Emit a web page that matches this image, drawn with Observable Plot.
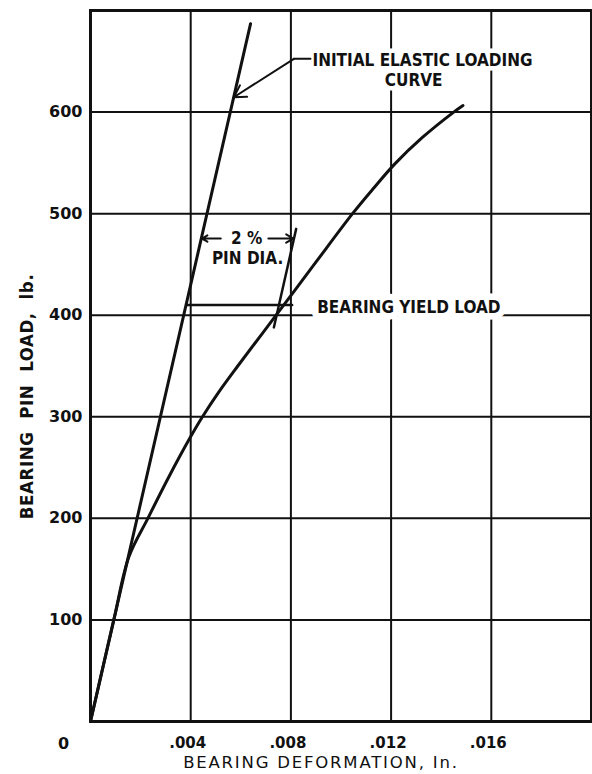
<!DOCTYPE html>
<html>
<head>
<meta charset="utf-8">
<script src="https://cdn.jsdelivr.net/npm/d3@7"></script>
<script src="https://cdn.jsdelivr.net/npm/@observablehq/plot@0.6"></script>
<style>
  html, body { margin: 0; padding: 0; background: #fff; }
  #chart svg { display: block; }
</style>
</head>
<body>
<div id="chart"></div>
<script>
// Axis ticks
const xTicks = [0.004, 0.008, 0.012, 0.016];
const xTickLabels = [".004", ".008", ".012", ".016"];
const yTicks = [100, 200, 300, 400, 500, 600];

// Axis titles
const xTitle = "BEARING DEFORMATION, In.";
const yTitle = "BEARING  PIN  LOAD,  lb.";

// Initial elastic loading line (deformation in., load lb.)
const elasticDeformation = [0, 0.00639];
const elasticLoad = [0, 687];

// Bearing load-deformation curve
const bearingDeformation = [0, 0.00093, 0.00153, 0.00229, 0.00311, 0.00399, 0.00447, 0.00514, 0.00588, 0.00741, 0.00893, 0.01046, 0.01130, 0.01215, 0.01325, 0.01450, 0.01487];
const bearingLoad = [0, 100, 162, 200, 240, 280, 300, 325, 350, 400, 450, 500, 525, 549, 575, 600, 606.5];

// 2% pin diameter offset line
const offsetDeformation = [0.00732, 0.00821];
const offsetLoad = [388, 485];

// Bearing yield load line
const yieldDeformation = [0.00386, 0.00805];
const yieldLoad = [410, 410];

// Leader to "INITIAL ELASTIC LOADING CURVE"
const leaderDeformation = [0.00878, 0.00812];
const leaderLoad = [652.4, 652.4];
const leaderArrowTip = [0.00572, 614.6];

// "2 % PIN DIA." dimension arrows
const dimLoad = 475.5;
const dimInner = [0.0052, 0.0071];
const dimOuter = [0.00445, 0.0081];

// Annotation labels
const startLabels = [
  {text: "INITIAL ELASTIC LOADING", x: 0.00886, y: 650.8}
];
const yieldLabel = [
  {text: "BEARING YIELD LOAD", x: 0.00905, y: 407.5}
];
const middleLabels = [
  {text: "CURVE", x: 0.0129, y: 631},
  {text: "2 %", x: 0.00623, y: 475.2},
  {text: "PIN DIA.", x: 0.00627, y: 455.5}
];

const toPts = (xs, ys) => xs.map((x, i) => ({x, y: ys[i]}));

const condensed = "'DejaVu Sans Condensed', 'DejaVu Sans', sans-serif";
const labelStyle = {
  x: "x", y: "y", text: "text",
  fontSize: 17, fontWeight: "bold", fill: "#111", fontFamily: condensed,
  stroke: "#fff", strokeWidth: 9
};

const chart = Plot.plot({
  width: 592,
  height: 774,
  marginLeft: 90,
  marginRight: 1,
  marginTop: 10,
  marginBottom: 53,
  style: {background: "#fff", color: "#111", fontFamily: "'DejaVu Sans', sans-serif"},
  x: {domain: [0, 0.02]},
  y: {domain: [0, 700]},
  marks: [
    Plot.gridX(xTicks, {stroke: "#111", strokeOpacity: 1, strokeWidth: 2}),
    Plot.gridY(yTicks, {stroke: "#111", strokeOpacity: 1, strokeWidth: 2}),
    Plot.axisX(xTicks, {
      tickFormat: d => xTickLabels[xTicks.indexOf(d)],
      tickSize: 0, tickPadding: 16, dx: -3,
      fontSize: 15, fontWeight: "bold", label: null
    }),
    Plot.axisY(yTicks, {
      tickSize: 0, tickPadding: 8,
      fontSize: 16, fontWeight: "bold", label: null
    }),
    Plot.text(["0"], {x: 0, y: 0, dx: -27, dy: 22, fontSize: 16, fontWeight: "bold", fill: "#111"}),
    Plot.text([xTitle], {
      x: 0.0092, y: 0, dy: 41, fontSize: 16.5, fill: "#111",
      fontFamily: "'DejaVu Sans', sans-serif"
    }),
    Plot.text([yTitle], {
      frameAnchor: "left", dx: -63, y: 320, rotate: -90, textAnchor: "middle",
      fontSize: 18.5, fontWeight: "bold", fill: "#111", fontFamily: condensed
    }),
    Plot.text(startLabels, {...labelStyle, textAnchor: "start"}),
    Plot.text(yieldLabel, {...labelStyle, textAnchor: "start", strokeWidth: 13}),
    Plot.text(middleLabels, {...labelStyle, textAnchor: "middle"}),
    Plot.line(toPts(elasticDeformation, elasticLoad), {x: "x", y: "y", stroke: "#111", strokeWidth: 3}),
    Plot.line(toPts(bearingDeformation, bearingLoad), {x: "x", y: "y", stroke: "#111", strokeWidth: 3, curve: "catmull-rom"}),
    Plot.line(toPts(offsetDeformation, offsetLoad), {x: "x", y: "y", stroke: "#111", strokeWidth: 2.5}),
    Plot.line(toPts(yieldDeformation, yieldLoad), {x: "x", y: "y", stroke: "#111", strokeWidth: 2.5}),
    Plot.line(toPts(leaderDeformation, leaderLoad), {x: "x", y: "y", stroke: "#111", strokeWidth: 2}),
    Plot.arrow([0], {
      x1: leaderDeformation[1], y1: leaderLoad[1], x2: leaderArrowTip[0], y2: leaderArrowTip[1],
      stroke: "#111", strokeWidth: 2, headLength: 10
    }),
    Plot.arrow([0, 1], {
      x1: i => dimInner[i], y1: () => dimLoad, x2: i => dimOuter[i], y2: () => dimLoad,
      stroke: "#111", strokeWidth: 2, headLength: 7
    }),
    Plot.frame({stroke: "#111", strokeWidth: 3})
  ]
});
document.getElementById("chart").appendChild(chart);

// letter spacing for the axis titles (styling only)
d3.select(chart).selectAll("text")
  .filter(function() { return this.textContent === xTitle; })
  .attr("letter-spacing", "1.8px");
d3.select(chart).selectAll("text")
  .filter(function() { return this.textContent === yTitle; })
  .attr("letter-spacing", "0.6px");
</script>
</body>
</html>
